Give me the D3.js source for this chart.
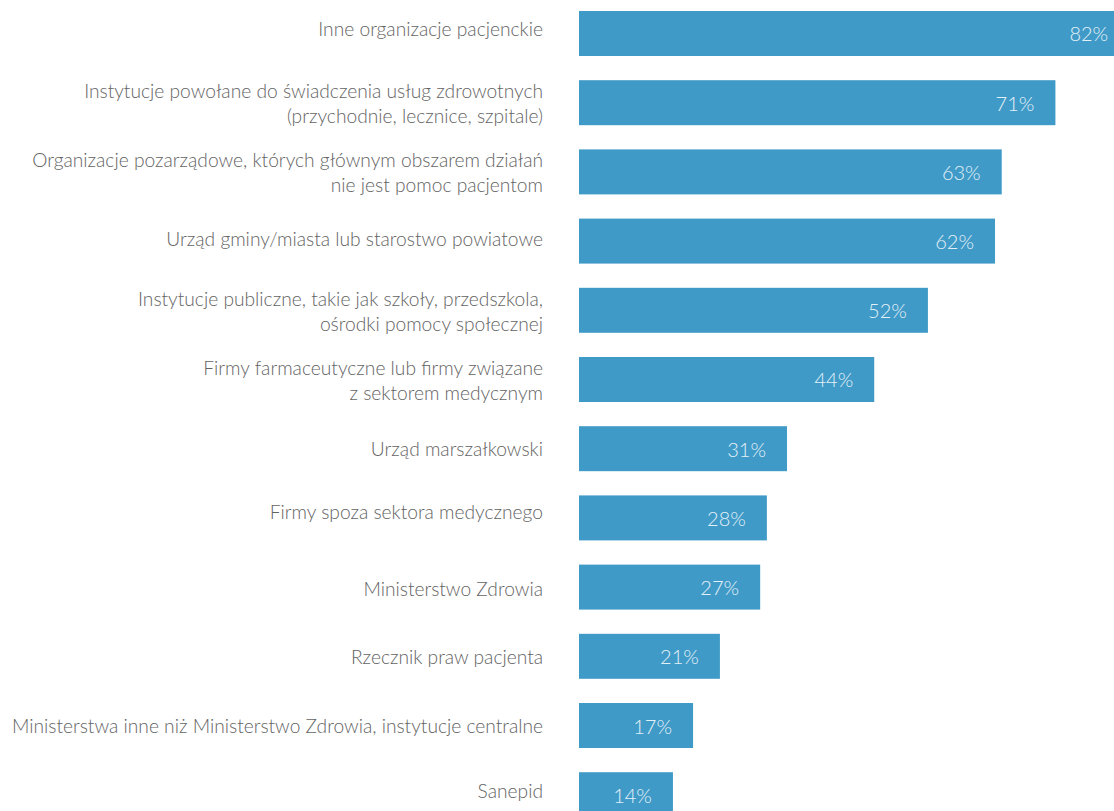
<!DOCTYPE html>
<html>
<head>
<meta charset="utf-8">
<script src="https://cdn.jsdelivr.net/npm/d3@7"></script>
<style>
  html, body { margin: 0; padding: 0; background: #ffffff; }
  svg { display: block; }
</style>
</head>
<body>
<div id="chart"></div>
<script>
// Categories (label lines) and their shares in percent
const categories = [
  ["Inne organizacje pacjenckie"],
  ["Instytucje powołane do świadczenia usług zdrowotnych", "(przychodnie, lecznice, szpitale)"],
  ["Organizacje pozarządowe, których głównym obszarem działań", "nie jest pomoc pacjentom"],
  ["Urząd gminy/miasta lub starostwo powiatowe"],
  ["Instytucje publiczne, takie jak szkoły, przedszkola,", "ośrodki pomocy społecznej"],
  ["Firmy farmaceutyczne lub firmy związane", "z sektorem medycznym"],
  ["Urząd marszałkowski"],
  ["Firmy spoza sektora medycznego"],
  ["Ministerstwo Zdrowia"],
  ["Rzecznik praw pacjenta"],
  ["Ministerstwa inne niż Ministerstwo Zdrowia, instytucje centralne"],
  ["Sanepid"]
];
const values = [82, 71, 63, 62, 52, 44, 31, 28, 27, 21, 17, 14];

const width = 1114, height = 811;
const fontFamily = "Lato, 'Open Sans', sans-serif";

const svg = d3.select("#chart").append("svg")
  .attr("width", width)
  .attr("height", height);

const ids = d3.range(values.length);

const x = d3.scaleLinear().domain([0, 100]).range([579, 579 + 671]);
const y = d3.scaleBand()
  .domain(ids)
  .range([11, 11 + 12 * 69.2 - 24.2])
  .paddingInner(0.35)
  .paddingOuter(0);

// Bars
svg.append("g").selectAll("rect")
  .data(ids)
  .join("rect")
  .attr("x", x(0))
  .attr("y", i => y(i))
  .attr("width", i => x(values[i]) - x(0))
  .attr("height", y.bandwidth())
  .attr("fill", "#3f9ac7");

// Value labels inside the bars
svg.append("g").selectAll("text")
  .data(ids)
  .join("text")
  .attr("x", i => x(values[i]) - 21)
  .attr("y", i => y(i) + y.bandwidth() / 2 + 8)
  .attr("text-anchor", "end")
  .attr("font-family", fontFamily)
  .attr("font-weight", 300)
  .attr("font-size", 20)
  .attr("fill", "#e3f0f7")
  .text(i => values[i] + "%");

// Category labels, right-aligned left of the bars
const lineH = 25;
// small per-row vertical nudges of the category labels
const labelNudge = [0, 0, 0, 1.5, 0, 0, 4, -2, 5.5, 4.5, 4, 0];
const labels = svg.append("g").selectAll("text")
  .data(ids)
  .join("text")
  .attr("text-anchor", "end")
  .attr("font-family", fontFamily)
  .attr("font-weight", 300)
  .attr("font-size", 19.2)
  .attr("fill", "#636363");

labels.each(function(i) {
  const lines = categories[i];
  const n = lines.length;
  const cy = y(i) + y.bandwidth() / 2 + 3 + labelNudge[i];
  // multi-line labels sit a little lower than single-line ones
  const start = cy - (n - 1) * lineH / 2 + (n - 1) * 5;
  d3.select(this).selectAll("tspan")
    .data(lines)
    .join("tspan")
    .attr("x", 543)
    .attr("y", (d, k) => start + k * lineH)
    .text(d => d);
});
</script>
</body>
</html>
